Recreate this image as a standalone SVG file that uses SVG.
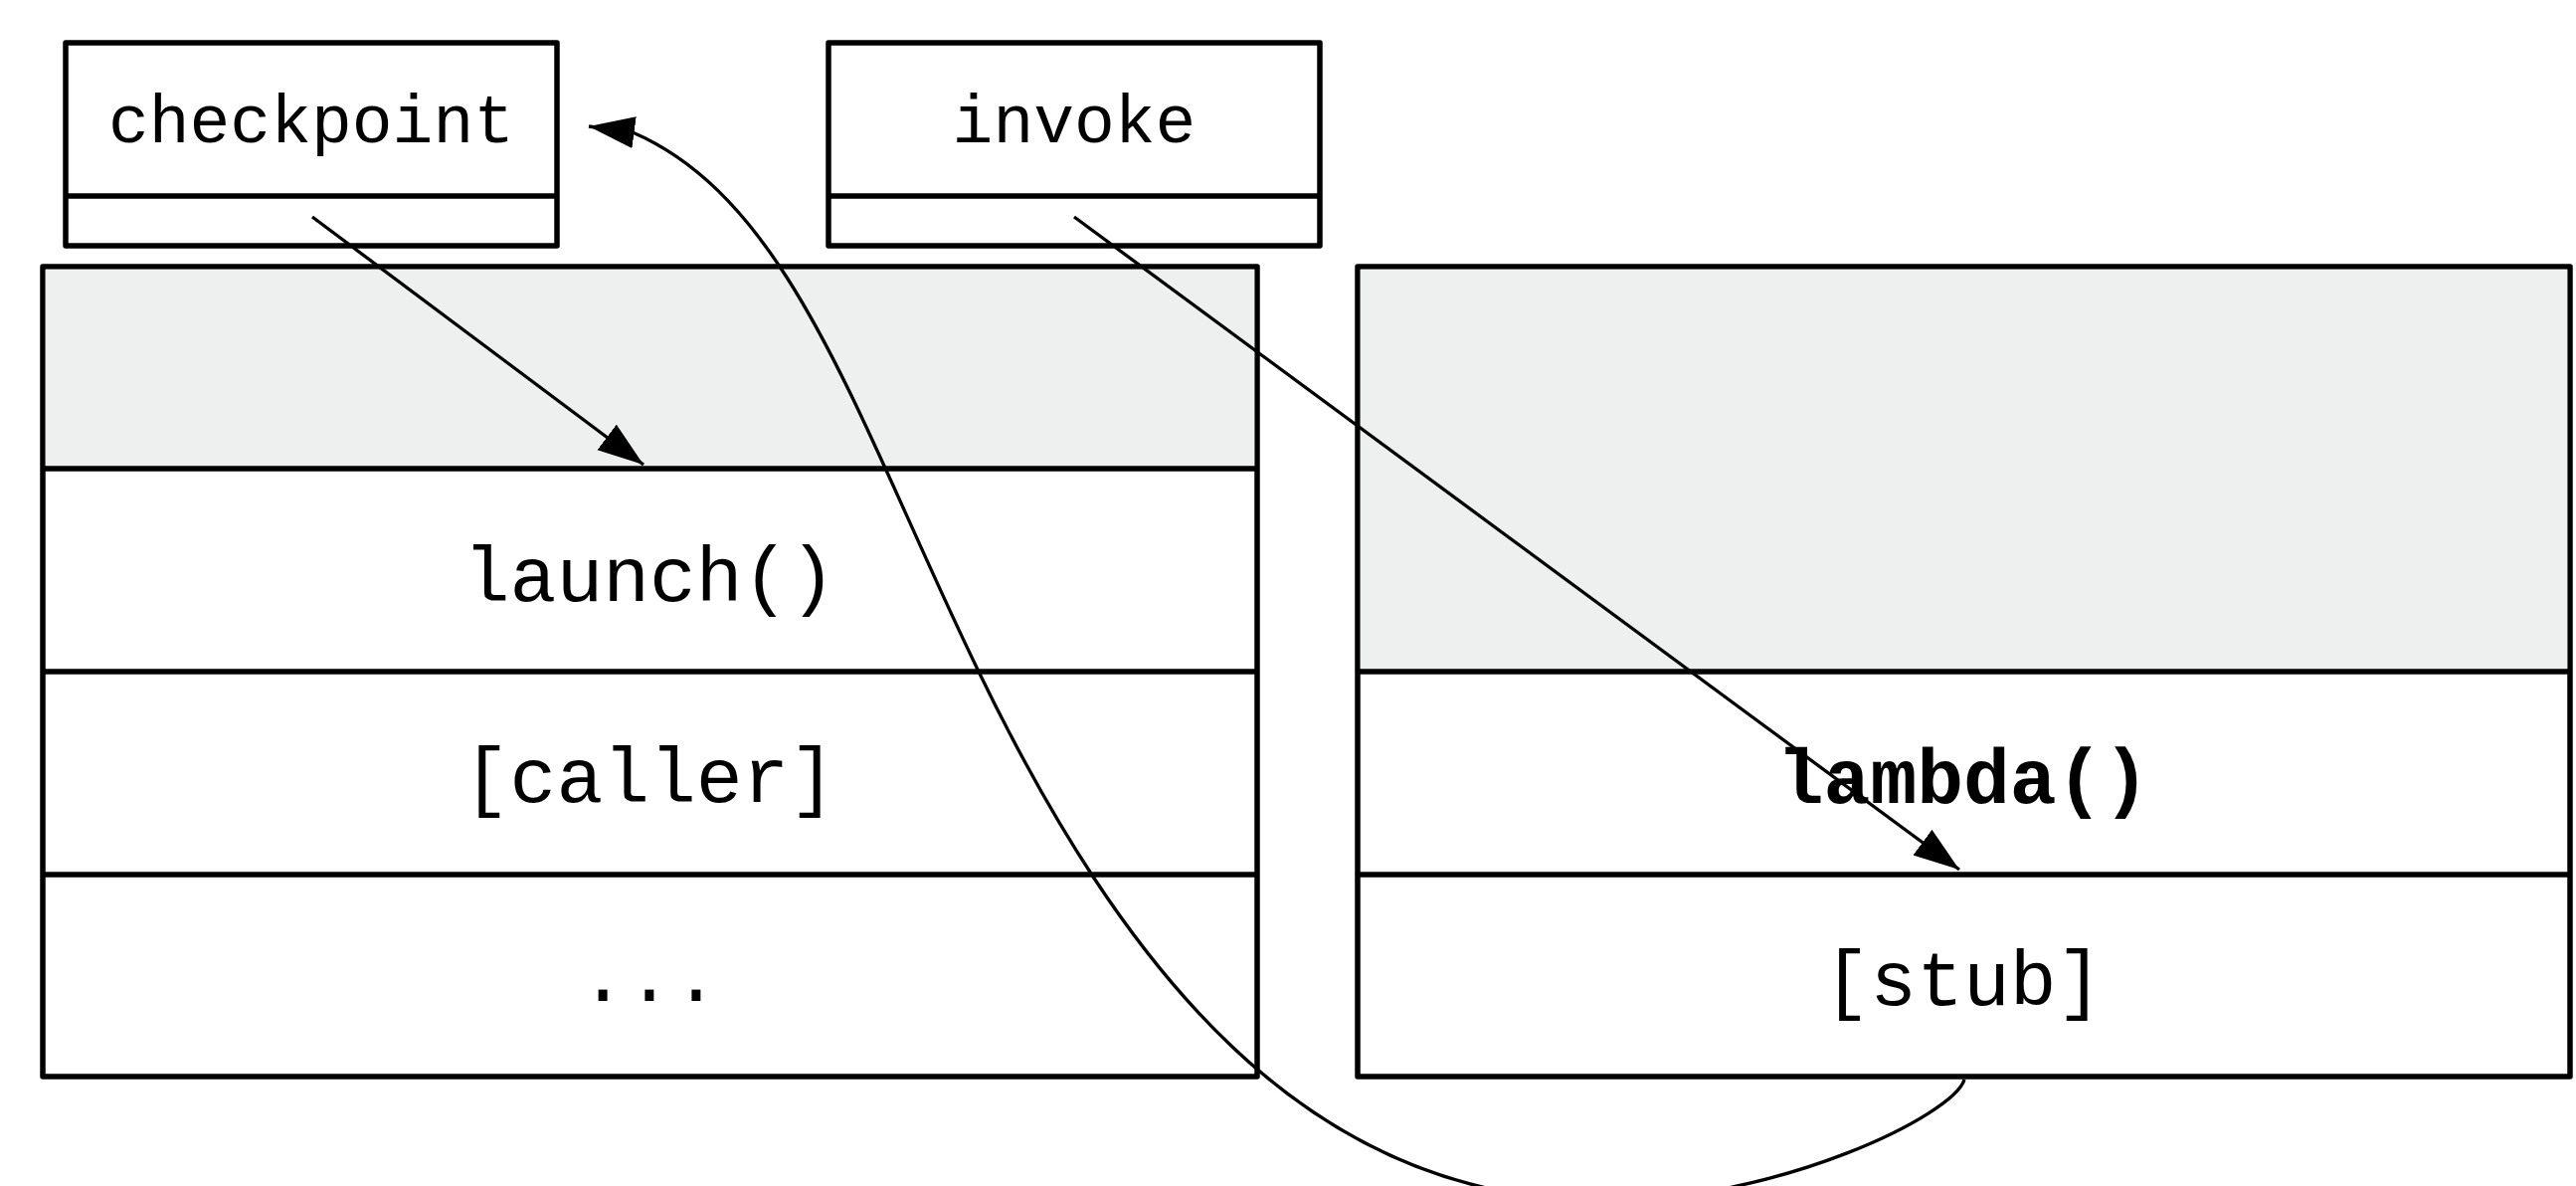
<svg xmlns="http://www.w3.org/2000/svg" width="2590" height="1192" viewBox="0 0 2590 1192">
  <defs>
    <marker id="ah" markerUnits="userSpaceOnUse" markerWidth="50" markerHeight="34" refX="46" refY="16" orient="auto">
      <path d="M0,0 L46,16 L0,32 z" fill="#000"/>
    </marker>
    <style>
      .box { fill: #fff; stroke: #000; stroke-width: 5.5; stroke-linejoin: round; }
      .grey { fill: #eef0ef; stroke: none; }
      .div { stroke: #000; stroke-width: 5.5; fill: none; }
      .t { font-family: "Liberation Mono", "Courier New", monospace; fill: #000; text-anchor: middle; }
      .sm { font-size: 68px; }
      .lg { font-size: 78px; }
      .b { font-weight: bold; }
      .edge { fill: none; stroke: #000; stroke-width: 3.3; marker-end: url(#ah); }
    </style>
  </defs>
  <rect width="2590" height="1192" fill="#fff"/>

  <g id="checkpoint">
    <rect class="box" x="66" y="43" width="494" height="204"/>
    <line class="div" x1="66" y1="197" x2="560" y2="197"/>
    <text class="t sm" x="313" y="143">checkpoint</text>
  </g>

  <g id="invoke">
    <rect class="box" x="833" y="43" width="494" height="204"/>
    <line class="div" x1="833" y1="197" x2="1327" y2="197"/>
    <text class="t sm" x="1080" y="143">invoke</text>
  </g>

  <g id="stack-left">
    <rect class="box" x="43" y="268" width="1221" height="814"/>
    <rect class="grey" x="45.75" y="270.75" width="1215.5" height="200"/>
    <line class="div" x1="43" y1="471" x2="1264" y2="471"/>
    <line class="div" x1="43" y1="675" x2="1264" y2="675"/>
    <line class="div" x1="43" y1="879" x2="1264" y2="879"/>
    <text class="t lg" x="653" y="604">launch()</text>
    <text class="t lg" x="653" y="806">[caller]</text>
    <text class="t lg" x="653" y="1006">...</text>
  </g>

  <g id="stack-right">
    <rect class="box" x="1365" y="268" width="1219" height="814"/>
    <rect class="grey" x="1367.75" y="270.75" width="1213.5" height="404"/>
    <line class="div" x1="1365" y1="675" x2="2584" y2="675"/>
    <line class="div" x1="1365" y1="879" x2="2584" y2="879"/>
    <text class="t lg b" x="1974" y="807">lambda()</text>
    <text class="t lg" x="1974" y="1010">[stub]</text>
  </g>

  <g id="connectors">
    <path class="edge" d="M314,218 L647,467"/>
    <path class="edge" d="M1080,218 L1970,874"/>
    <path class="edge" d="M1975,1085 C1965,1120 1790,1207 1612,1207 C1312,1207 1128,973 983,673 C862,423 796,202 636,133 L592,127"/>
  </g>
</svg>
